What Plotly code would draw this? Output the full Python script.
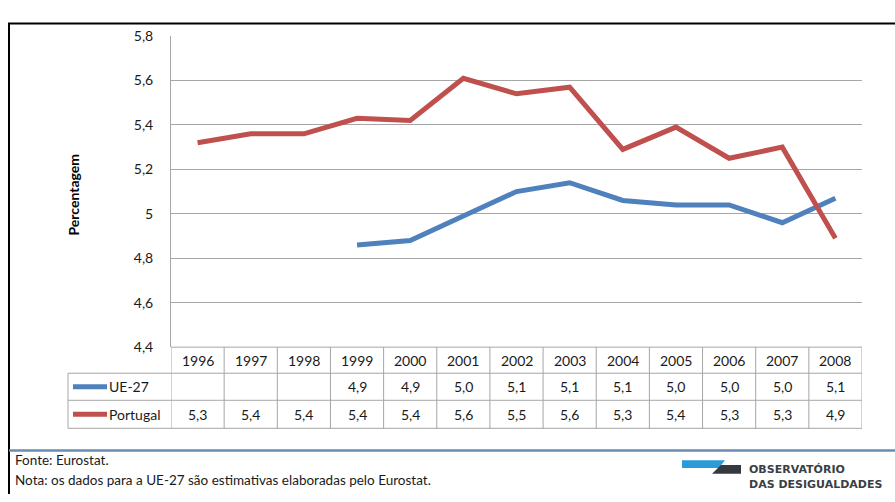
import plotly.graph_objects as go

W, H = 895, 502

years = ["1996", "1997", "1998", "1999", "2000", "2001", "2002",
         "2003", "2004", "2005", "2006", "2007", "2008"]
ue27 = [None, None, None, 4.86, 4.88, 4.99, 5.10, 5.14, 5.06, 5.04, 5.04, 4.96, 5.07]
portugal = [5.32, 5.36, 5.36, 5.43, 5.42, 5.61, 5.54, 5.57, 5.29, 5.39, 5.25, 5.30, 4.89]
ue27_table = ["", "", "", "4,9", "4,9", "5,0", "5,1", "5,1", "5,1", "5,0", "5,0", "5,0", "5,1"]
portugal_table = ["5,3", "5,4", "5,4", "5,4", "5,4", "5,6", "5,5", "5,6", "5,3", "5,4", "5,3", "5,3", "4,9"]
y_ticks = [4.4, 4.6, 4.8, 5.0, 5.2, 5.4, 5.6, 5.8]
y_ticktext = ["4,4", "4,6", "4,8", "5", "5,2", "5,4", "5,6", "5,8"]

BLUE = "#4F81BD"
RED = "#C0504D"
GRID = "#a6a6a6"
FONT = "Lato"


def px(x):
    return x / W


def py(y):
    return 1 - y / H


fig = go.Figure()
fig.add_trace(go.Scatter(x=years, y=ue27, mode="lines", name="UE-27",
                         line=dict(color=BLUE, width=5), connectgaps=False))
fig.add_trace(go.Scatter(x=years, y=portugal, mode="lines", name="Portugal",
                         line=dict(color=RED, width=5)))

shapes = []
annotations = []

# outer frame (top and left)
shapes.append(dict(type="line", xref="paper", yref="paper", x0=px(8), x1=px(895),
                   y0=py(15), y1=py(15), line=dict(color="black", width=2)))
shapes.append(dict(type="line", xref="paper", yref="paper", x0=px(9), x1=px(9),
                   y0=py(15), y1=py(502), line=dict(color="black", width=2)))

# data table
n = len(years)
row_y = [350, 377, 405, 434]
for k in range(n + 1):
    shapes.append(dict(type="line", xref="x", yref="paper", x0=k - 0.5, x1=k - 0.5,
                       y0=py(350), y1=py(434), line=dict(color=GRID, width=1)))
shapes.append(dict(type="line", xref="paper", yref="paper", x0=px(68), x1=px(68),
                   y0=py(377), y1=py(434), line=dict(color=GRID, width=1)))
for i, yy in enumerate(row_y):
    x0 = px(171) if i == 0 else px(68)
    shapes.append(dict(type="line", xref="paper", yref="paper", x0=x0, x1=px(862),
                       y0=py(yy), y1=py(yy), line=dict(color=GRID, width=1)))

tfont = dict(family=FONT, size=14, color="#1a1a1a")
for j, yr in enumerate(years):
    annotations.append(dict(x=j, y=py(363.5), xref="x", yref="paper", text=yr,
                            showarrow=False, font=tfont, xanchor="center", yanchor="middle"))
    if ue27_table[j]:
        annotations.append(dict(x=j, y=py(391), xref="x", yref="paper", text=ue27_table[j],
                                showarrow=False, font=tfont, xanchor="center", yanchor="middle"))
    annotations.append(dict(x=j, y=py(419.5), xref="x", yref="paper", text=portugal_table[j],
                            showarrow=False, font=tfont, xanchor="center", yanchor="middle"))

# legend keys in table
for name, color, yc in [("UE-27", BLUE, 391), ("Portugal", RED, 419.5)]:
    shapes.append(dict(type="line", xref="paper", yref="paper", x0=px(73), x1=px(107),
                       y0=py(yc), y1=py(yc), line=dict(color=color, width=5)))
    annotations.append(dict(x=px(107), y=py(yc), xref="paper", yref="paper", text=name,
                            showarrow=False, font=tfont, xanchor="left", yanchor="middle"))

# y-axis title
annotations.append(dict(x=px(73), y=py(192), xref="paper", yref="paper", text="<b>Percentagem</b>",
                        textangle=-90, showarrow=False,
                        font=dict(family=FONT, size=14, color="black"),
                        xanchor="center", yanchor="middle"))

# separator line
shapes.append(dict(type="line", xref="paper", yref="paper", x0=px(9), x1=px(895),
                   y0=py(457), y1=py(457), line=dict(color="#6a8db2", width=2.5)))

# footer
ffont = dict(family=FONT, size=13.5, color="#1a1a1a")
annotations.append(dict(x=px(13), y=py(467), xref="paper", yref="paper", text="Fonte: Eurostat.",
                        showarrow=False, font=ffont, xanchor="left", yanchor="middle"))
annotations.append(dict(x=px(13), y=py(487), xref="paper", yref="paper",
                        text="Nota: os dados para a UE-27 são estimativas elaboradas pelo Eurostat.",
                        showarrow=False, font=ffont, xanchor="left", yanchor="middle"))

# logo
def path(points):
    return "M " + " L ".join(f"{px(x)},{py(y)}" for x, y in points) + " Z"

shapes.append(dict(type="path", xref="paper", yref="paper",
                   path=path([(682, 467), (725, 467), (719, 475), (682, 475)]),
                   fillcolor="#2b9bd8", line=dict(width=0)))
shapes.append(dict(type="path", xref="paper", yref="paper",
                   path=path([(721, 472), (741, 472), (741, 481), (712, 481)]),
                   fillcolor="#34383f", line=dict(width=0)))
lfont = dict(family="DejaVu Sans", size=11, color="#3a3e45", weight="bold")
annotations.append(dict(x=px(747), y=py(477), xref="paper", yref="paper", text="OBSERVATÓRIO",
                        showarrow=False, font=lfont, xanchor="left", yanchor="middle"))
annotations.append(dict(x=px(747), y=py(492), xref="paper", yref="paper", text="DAS DESIGUALDADES",
                        showarrow=False, font=lfont, xanchor="left", yanchor="middle"))

fig.update_layout(
    width=W, height=H,
    margin=dict(l=0, r=0, t=0, b=0),
    paper_bgcolor="white", plot_bgcolor="white",
    showlegend=False,
    shapes=shapes, annotations=annotations,
    xaxis=dict(domain=[px(171), px(862)], type="category", range=[-0.5, n - 0.5],
               showticklabels=False, showgrid=False, zeroline=False, ticks=""),
    yaxis=dict(domain=[py(350), py(28)], range=[4.4, 5.8], tickvals=y_ticks, ticktext=y_ticktext,
               showgrid=True, gridcolor=GRID, gridwidth=1, zeroline=False,
               showline=True, linecolor=GRID, linewidth=1, ticks="",
               ticklabelstandoff=14,
               tickfont=dict(family=FONT, size=14, color="#1a1a1a")),
)

fig.write_html("out.html", post_script="document.body.style.margin='0';document.body.style.overflow='hidden';")
